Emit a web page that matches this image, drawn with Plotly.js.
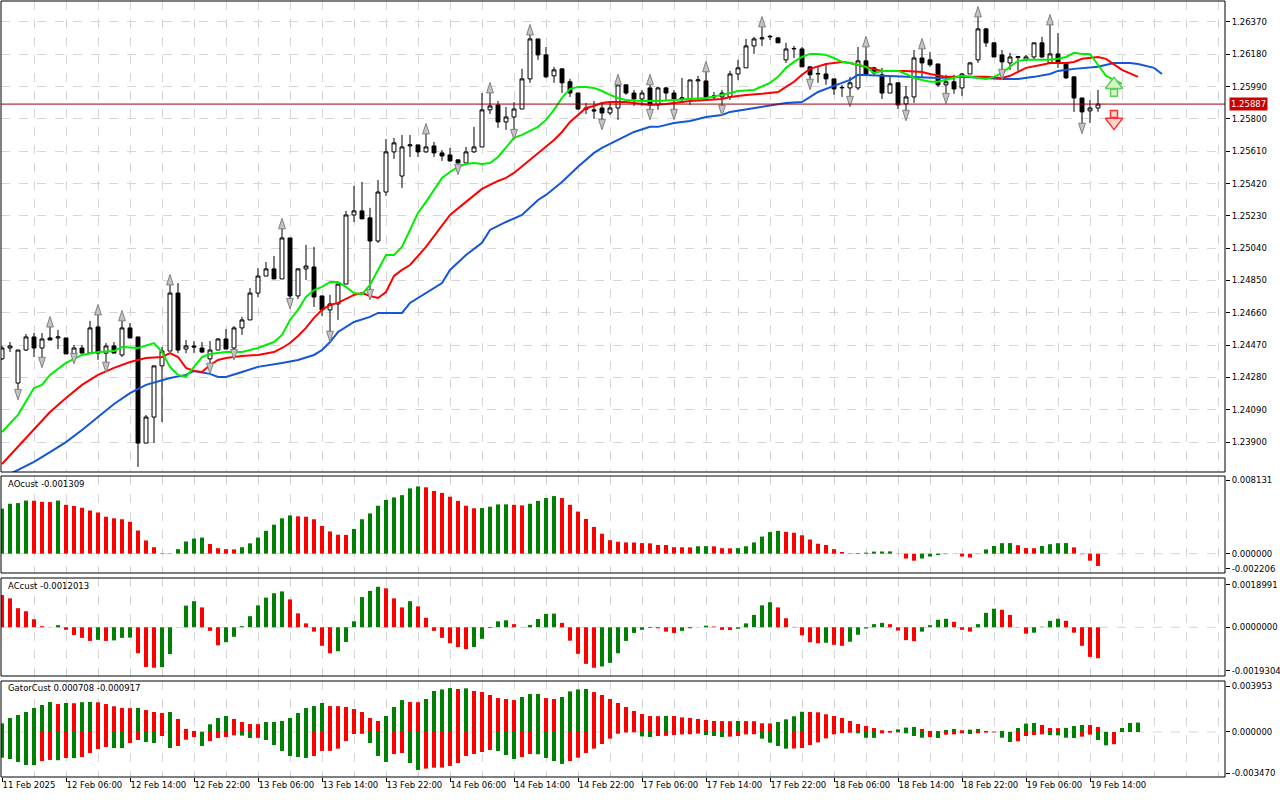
<!DOCTYPE html>
<html><head><meta charset="utf-8">
<script src="https://cdn.plot.ly/plotly-3.0.1.min.js"></script>
<style>html,body{margin:0;padding:0;background:#fff;}#chart{width:1280px;height:800px;}</style>
</head><body><div id="chart"></div>
<script>
// ---- time axis ----
const tickIdx = [0,8,16,24,32,40,48,56,64,72,80,88,96,104,112,120,128,136];
const tickLabels = ['11 Feb 2025','12 Feb 06:00','12 Feb 14:00','12 Feb 22:00','13 Feb 06:00','13 Feb 14:00','13 Feb 22:00','14 Feb 06:00','14 Feb 14:00','14 Feb 22:00','17 Feb 06:00','17 Feb 14:00','17 Feb 22:00','18 Feb 06:00','18 Feb 14:00','18 Feb 22:00','19 Feb 06:00','19 Feb 14:00'];
const priceTicks = [1.23900,1.24090,1.24280,1.24470,1.24660,1.24850,1.25040,1.25230,1.25420,1.25610,1.25800,1.25990,1.26180,1.26370];
const currentPrice = 1.25887;

// ---- candles (H1) ----
const open = [1.24389,1.24453,1.24247,1.24441,1.24518,1.24453,1.24512,1.24512,1.24512,1.24418,
1.24453,1.24423,1.24577,1.24423,1.24465,1.24412,1.24571,1.24518,1.23894,1.24047,
1.24348,1.24435,1.24776,1.24447,1.24465,1.24453,1.24389,1.24441,1.24506,1.24453,
1.24571,1.24618,1.24776,1.24876,1.24918,1.24859,1.25100,1.24759,1.24918,1.24929,
1.24759,1.24677,1.24712,1.24829,1.25235,1.25259,1.25218,1.25082,1.25370,1.25606,
1.25464,1.25641,1.25647,1.25606,1.25641,1.25600,1.25588,1.25559,1.25541,1.25606,
1.25635,1.25853,1.25882,1.25782,1.25811,1.25858,1.26035,1.26270,1.26176,1.26053,
1.26094,1.26018,1.25952,1.25864,1.25853,1.25864,1.25835,1.25864,1.26000,1.25952,
1.25917,1.25982,1.25882,1.25982,1.25952,1.25917,1.25917,1.26023,1.26023,1.25929,
1.25929,1.25929,1.26064,1.26100,1.26229,1.26270,1.26282,1.26276,1.26147,1.26211,
1.26211,1.26106,1.26064,1.26064,1.26035,1.25982,1.25982,1.25982,1.26141,1.26100,
1.26059,1.25952,1.26012,1.25888,1.25929,1.26158,1.26147,1.26123,1.26000,1.26018,
1.25982,1.26064,1.26147,1.26329,1.26247,1.26176,1.26129,1.26160,1.26147,1.26164,
1.26247,1.26129,1.26182,1.26129,1.26047,1.25923,1.25847,1.25864];
const high = [1.24465,1.24488,1.24441,1.24535,1.24541,1.24541,1.24588,1.24559,1.24512,1.24471,
1.24471,1.24612,1.24659,1.24482,1.24488,1.24624,1.24600,1.24518,1.24059,1.24348,
1.24459,1.24835,1.24835,1.24500,1.24494,1.24488,1.24494,1.24512,1.24565,1.24582,
1.24636,1.24806,1.24923,1.24959,1.24994,1.25165,1.25100,1.24923,1.25059,1.25047,
1.24759,1.24765,1.24829,1.25259,1.25406,1.25429,1.25277,1.25441,1.25682,1.25688,
1.25705,1.25705,1.25647,1.25723,1.25665,1.25617,1.25629,1.25559,1.25635,1.25753,
1.25952,1.25964,1.25905,1.25870,1.25899,1.26094,1.26305,1.26270,1.26223,1.26106,
1.26094,1.26035,1.25952,1.25894,1.25905,1.25894,1.25894,1.26012,1.26000,1.25970,
1.25970,1.26012,1.25988,1.25988,1.25970,1.26041,1.26029,1.26053,1.26088,1.25958,
1.25970,1.26082,1.26147,1.26270,1.26282,1.26352,1.26294,1.26282,1.26247,1.26229,
1.26223,1.26106,1.26106,1.26129,1.26035,1.26000,1.26047,1.26223,1.26235,1.26106,
1.26100,1.26053,1.26012,1.25994,1.26205,1.26223,1.26194,1.26123,1.26059,1.26059,
1.26070,1.26135,1.26411,1.26335,1.26247,1.26205,1.26188,1.26170,1.26176,1.26247,
1.26282,1.26364,1.26305,1.26129,1.26047,1.25923,1.25911,1.25970];
const low = [1.24383,1.24429,1.24188,1.24435,1.24400,1.24377,1.24500,1.24447,1.24418,1.24400,
1.24423,1.24423,1.24383,1.24348,1.24423,1.24400,1.24512,1.23754,1.23894,1.23894,
1.24018,1.24435,1.24423,1.24423,1.24423,1.24423,1.24342,1.24441,1.24447,1.24423,
1.24530,1.24618,1.24753,1.24876,1.24859,1.24859,1.24723,1.24741,1.24853,1.24694,
1.24641,1.24530,1.24618,1.24829,1.25194,1.25212,1.24776,1.25071,1.25347,1.25565,
1.25394,1.25576,1.25576,1.25600,1.25576,1.25553,1.25547,1.25512,1.25541,1.25600,
1.25635,1.25829,1.25747,1.25735,1.25717,1.25858,1.26012,1.26147,1.26041,1.26012,
1.25952,1.25929,1.25853,1.25829,1.25800,1.25776,1.25823,1.25794,1.25941,1.25876,
1.25876,1.25835,1.25853,1.25911,1.25835,1.25894,1.25882,1.25911,1.25911,1.25911,
1.25858,1.25911,1.26029,1.26100,1.26182,1.26229,1.26264,1.26247,1.26129,1.26158,
1.26106,1.26012,1.26012,1.26000,1.25941,1.25929,1.25911,1.25970,1.26053,1.26059,
1.25917,1.25952,1.25858,1.25829,1.25894,1.26041,1.26106,1.25988,1.25929,1.25947,
1.25935,1.26064,1.26129,1.26223,1.26164,1.26070,1.26088,1.26082,1.26141,1.26147,
1.26158,1.26129,1.26100,1.26035,1.25841,1.25753,1.25776,1.25841];
const close = [1.24453,1.24465,1.24441,1.24518,1.24453,1.24506,1.24500,1.24518,1.24418,1.24453,
1.24423,1.24571,1.24423,1.24465,1.24423,1.24571,1.24512,1.23894,1.24047,1.24348,
1.24435,1.24776,1.24441,1.24465,1.24459,1.24429,1.24441,1.24506,1.24447,1.24571,
1.24618,1.24776,1.24876,1.24918,1.24859,1.25100,1.24759,1.24918,1.24935,1.24753,
1.24677,1.24712,1.24829,1.25235,1.25259,1.25212,1.25082,1.25370,1.25606,1.25659,
1.25635,1.25647,1.25606,1.25635,1.25600,1.25582,1.25553,1.25541,1.25606,1.25635,
1.25853,1.25876,1.25782,1.25811,1.25858,1.26035,1.26270,1.26176,1.26047,1.26088,
1.26012,1.25952,1.25858,1.25858,1.25847,1.25835,1.25864,1.26000,1.25952,1.25917,
1.25952,1.25882,1.25982,1.25952,1.25917,1.25923,1.26029,1.26029,1.25929,1.25935,
1.25952,1.26064,1.26100,1.26229,1.26270,1.26276,1.26285,1.26247,1.26211,1.26214,
1.26106,1.26059,1.26067,1.26035,1.25976,1.25985,1.26012,1.26141,1.26064,1.26070,
1.25952,1.26006,1.25882,1.25929,1.26158,1.26129,1.26118,1.26000,1.26018,1.25976,
1.26064,1.26129,1.26329,1.26247,1.26164,1.26135,1.26164,1.26166,1.26164,1.26247,
1.26164,1.26182,1.26129,1.26041,1.25923,1.25841,1.25864,1.25887];

// ---- fractals (bar numbers) ----
const fractalUpBars = [6,12,15,21,35,53,61,66,77,81,88,95,108,115,122,131];
const fractalDownBars = [2,5,9,13,17,26,29,36,41,46,57,64,75,81,84,90,101,106,113,118,125,135];

// ---- Alligator (shifted lines) ----
const lipsBars = [0,2,4,5,6,8,10,12,14,15,17,19,20,21,22,23,24,25,26,28,30,32,34,35,36,37,38,39,40,41,42,43,44,45,46,47,48,49,50,51,52,53,54,55,56,57,58,59,60,61,62,63,64,65,66,67,68,69,70,71,72,73,74,75,76,77,78,80,82,84,86,88,90,92,94,96,97,98,99,100,101,102,103,104,105,106,107,108,109,110,111,112,113,114,115,116,117,118,119,120,121,122,123,124,125,126,127,128,129,130,131,132,133,134,135,136,137,138,139,140];
const lipsVal = [1.23959,1.24060,1.24218,1.24236,1.24295,1.24365,1.24412,1.24429,1.24435,1.24459,1.24453,1.24482,1.24429,1.24342,1.24295,1.24283,1.24342,1.24400,1.24418,1.24429,1.24429,1.24453,1.24488,1.24530,1.24618,1.24677,1.24753,1.24794,1.24812,1.24841,1.24841,1.24812,1.24776,1.24770,1.24824,1.24912,1.25000,1.25000,1.25047,1.25147,1.25247,1.25312,1.25382,1.25453,1.25488,1.25518,1.25535,1.25541,1.25535,1.25541,1.25576,1.25629,1.25688,1.25706,1.25729,1.25753,1.25794,1.25853,1.25923,1.25976,1.25988,1.25988,1.25982,1.25964,1.25941,1.25923,1.25911,1.25905,1.25905,1.25911,1.25917,1.25923,1.25941,1.25964,1.25970,1.26012,1.26047,1.26100,1.26135,1.26164,1.26182,1.26182,1.26176,1.26158,1.26135,1.26129,1.26118,1.26106,1.26070,1.26082,1.26082,1.26082,1.26064,1.26041,1.26029,1.26018,1.26018,1.26029,1.26041,1.26053,1.26047,1.26041,1.26035,1.26047,1.26070,1.26106,1.26141,1.26147,1.26147,1.26147,1.26147,1.26153,1.26164,1.26188,1.26182,1.26182,1.26118,1.26053,1.26029,1.26006];
const teethBars = [0,2,4,6,8,10,12,14,16,18,20,21,22,23,24,25,26,27,28,30,32,34,35,36,37,38,39,40,41,42,44,45,46,47,48,49,50,51,53,54,56,58,60,62,63,64,66,67,68,69,70,71,73,74,75,76,78,80,81,83,85,86,88,90,91,93,95,96,97,98,99,100,101,103,105,106,107,108,110,111,113,115,116,118,120,121,123,125,126,127,128,130,131,133,134,135,137,138,139,140,142];
const teethVal = [1.23771,1.23871,1.23971,1.24077,1.24159,1.24236,1.24295,1.24336,1.24371,1.24394,1.24400,1.24423,1.24400,1.24336,1.24318,1.24312,1.24353,1.24383,1.24394,1.24406,1.24412,1.24429,1.24453,1.24482,1.24524,1.24571,1.24630,1.24677,1.24706,1.24718,1.24765,1.24776,1.24759,1.24747,1.24782,1.24877,1.24912,1.24941,1.25047,1.25112,1.25235,1.25312,1.25388,1.25435,1.25453,1.25482,1.25559,1.25600,1.25641,1.25676,1.25723,1.25782,1.25864,1.25876,1.25894,1.25899,1.25899,1.25888,1.25882,1.25888,1.25899,1.25905,1.25911,1.25917,1.25929,1.25941,1.25947,1.25952,1.25958,1.25988,1.26018,1.26059,1.26094,1.26123,1.26135,1.26129,1.26118,1.26106,1.26082,1.26082,1.26082,1.26076,1.26064,1.26047,1.26047,1.26047,1.26047,1.26041,1.26053,1.26076,1.26100,1.26118,1.26129,1.26129,1.26135,1.26153,1.26164,1.26153,1.26118,1.26088,1.26047];
const jawBars = [0,1,4,6,8,10,12,14,16,18,21,23,24,26,27,28,30,32,35,37,39,40,41,42,44,46,47,50,51,53,55,56,58,60,61,63,65,67,68,70,72,74,75,77,79,81,82,84,86,88,90,91,94,96,98,100,101,102,104,106,107,110,112,115,117,120,122,125,127,129,131,132,134,136,137,139,141,142,144,145];
const jawVal = [1.23689,1.23712,1.23783,1.23841,1.23900,1.23971,1.24048,1.24124,1.24188,1.24236,1.24277,1.24295,1.24318,1.24301,1.24283,1.24283,1.24312,1.24342,1.24365,1.24383,1.24412,1.24441,1.24488,1.24547,1.24606,1.24636,1.24659,1.24659,1.24718,1.24776,1.24835,1.24912,1.25000,1.25071,1.25147,1.25194,1.25235,1.25323,1.25353,1.25429,1.25518,1.25600,1.25629,1.25676,1.25723,1.25753,1.25753,1.25776,1.25788,1.25811,1.25823,1.25841,1.25864,1.25876,1.25894,1.25899,1.25929,1.25958,1.25994,1.26029,1.26059,1.26053,1.26047,1.26041,1.26041,1.26047,1.26041,1.26035,1.26035,1.26047,1.26064,1.26082,1.26094,1.26100,1.26106,1.26129,1.26129,1.26123,1.26100,1.26064];

// ---- signal arrows (price at arrow tip) ----
const signalUpBars = [139];
const signalUpTip = [1.26029];
const signalDownBars = [139];
const signalDownTip = [1.25753];

// ---- AO ----
const ao = [0.00480,0.00532,0.00539,0.00566,0.00564,0.00552,0.00550,0.00566,0.00521,0.00508,
0.00490,0.00460,0.00439,0.00394,0.00377,0.00367,0.00340,0.00247,0.00141,0.00069,
0.00005,-0.00003,0.00048,0.00130,0.00161,0.00172,0.00103,0.00058,0.00048,0.00046,
0.00069,0.00110,0.00172,0.00244,0.00309,0.00377,0.00408,0.00398,0.00394,0.00367,
0.00295,0.00237,0.00202,0.00200,0.00264,0.00367,0.00429,0.00511,0.00573,0.00600,
0.00624,0.00696,0.00717,0.00707,0.00669,0.00648,0.00607,0.00563,0.00511,0.00484,
0.00486,0.00501,0.00525,0.00526,0.00521,0.00515,0.00532,0.00563,0.00593,0.00614,
0.00593,0.00521,0.00449,0.00370,0.00285,0.00213,0.00144,0.00127,0.00120,0.00119,
0.00113,0.00110,0.00093,0.00092,0.00069,0.00068,0.00067,0.00079,0.00080,0.00078,
0.00058,0.00057,0.00059,0.00079,0.00120,0.00182,0.00230,0.00244,0.00233,0.00223,
0.00196,0.00151,0.00106,0.00093,0.00048,0.00018,-0.00003,0.00007,0.00011,0.00022,
0.00023,0.00024,-0.00003,-0.00052,-0.00075,-0.00052,-0.00030,-0.00015,-0.00005,0.00002,
-0.00030,-0.00041,-0.00002,0.00045,0.00082,0.00112,0.00113,0.00090,0.00060,0.00058,
0.00082,0.00101,0.00112,0.00113,0.00067,-0.00005,-0.00075,-0.001309];

// ---- AC ----
const ac = [0.00125,0.00112,0.00074,0.00062,0.00031,0.00004,0.00001,0.00008,-0.00010,-0.00030,
-0.00041,-0.00053,-0.00049,-0.00053,-0.00051,-0.00041,-0.00040,-0.00101,-0.00154,-0.00157,
-0.00155,-0.00104,0.00001,0.00084,0.00101,0.00077,-0.00014,-0.00070,-0.00058,-0.00037,
0.00004,0.00043,0.00085,0.00115,0.00132,0.00139,0.00108,0.00054,0.00015,-0.00017,
-0.00072,-0.00101,-0.00093,-0.00057,0.00023,0.00117,0.00141,0.00157,0.00151,0.00112,
0.00077,0.00101,0.00081,0.00037,-0.00014,-0.00041,-0.00062,-0.00077,-0.00085,-0.00077,
-0.00045,-0.00003,0.00023,0.00027,0.00012,0.00001,0.00009,0.00032,0.00052,0.00053,
0.00017,-0.00052,-0.00103,-0.00142,-0.00157,-0.00152,-0.00138,-0.00101,-0.00053,-0.00022,
-0.00010,-0.00003,-0.00004,-0.00017,-0.00022,-0.00014,-0.00004,-0.00001,0.00006,0.00003,
-0.00010,-0.00011,-0.00006,0.00015,0.00048,0.00085,0.00097,0.00077,0.00035,-0.00001,
-0.00031,-0.00058,-0.00062,-0.00060,-0.00068,-0.00072,-0.00056,-0.00029,-0.00005,0.00012,
0.00017,0.00012,-0.00013,-0.00050,-0.00054,-0.00017,0.00008,0.00029,0.00033,0.00021,
-0.00010,-0.00017,0.00012,0.00056,0.00072,0.00068,0.00048,-0.00001,-0.00025,-0.00021,
0.00002,0.00025,0.00033,0.00025,-0.00021,-0.00072,-0.00115,-0.0012013];

// ---- Gator ----
const gatorUp = [0.00065,0.00105,0.00128,0.00150,0.00180,0.00203,0.00225,0.00210,0.00218,0.00216,
0.00224,0.00226,0.00223,0.00210,0.00193,0.00180,0.00179,0.00181,0.00165,0.00150,
0.00143,0.00150,0.00098,0.00023,0.00008,0.00002,0.00058,0.00105,0.00120,0.00098,
0.00075,0.00060,0.00059,0.00075,0.00076,0.00083,0.00105,0.00143,0.00180,0.00195,
0.00218,0.00195,0.00194,0.00188,0.00173,0.00150,0.00105,0.00083,0.00120,0.00188,
0.00240,0.00225,0.00224,0.00248,0.00308,0.00320,0.00330,0.00323,0.00328,0.00308,
0.00300,0.00278,0.00255,0.00248,0.00240,0.00263,0.00285,0.00286,0.00255,0.00248,
0.00263,0.00305,0.00320,0.00323,0.00300,0.00278,0.00248,0.00218,0.00188,0.00158,
0.00135,0.00120,0.00119,0.00121,0.00120,0.00110,0.00105,0.00098,0.00090,0.00083,
0.00082,0.00081,0.00083,0.00082,0.00081,0.00065,0.00064,0.00075,0.00095,0.00118,
0.00152,0.00150,0.00148,0.00133,0.00120,0.00105,0.00083,0.00060,0.00045,0.00030,
0.00013,0.00008,0.00020,0.00033,0.00038,0.00023,0.00008,0.00007,0.00015,0.00023,
0.00013,0.00018,0.00023,0.00008,0.00003,0.00008,0.00001,0.00030,0.00063,0.00068,
0.00053,0.00030,0.00029,0.00031,0.00045,0.00053,0.00052,0.00038,0.00001,0.00000,
0.00030,0.00068,0.000708];
const gatorDown = [-0.00193,-0.00203,-0.00225,-0.00248,-0.00249,-0.00218,-0.00210,-0.00212,-0.00195,-0.00196,
-0.00188,-0.00158,-0.00128,-0.00113,-0.00120,-0.00121,-0.00083,-0.00060,-0.00075,-0.00083,
-0.00030,-0.00120,-0.00105,-0.00058,-0.00038,-0.00105,-0.00068,-0.00045,-0.00038,-0.00025,
-0.00027,-0.00045,-0.00044,-0.00060,-0.00098,-0.00143,-0.00180,-0.00188,-0.00195,-0.00180,
-0.00143,-0.00142,-0.00125,-0.00068,-0.00015,-0.00014,-0.00083,-0.00180,-0.00225,-0.00165,
-0.00158,-0.00233,-0.00285,-0.00275,-0.00268,-0.00267,-0.00255,-0.00233,-0.00180,-0.00165,
-0.00150,-0.00135,-0.00143,-0.00173,-0.00203,-0.00188,-0.00165,-0.00167,-0.00195,-0.00218,
-0.00240,-0.00218,-0.00193,-0.00158,-0.00125,-0.00090,-0.00050,-0.00013,-0.00004,-0.00002,
-0.00033,-0.00038,-0.00030,-0.00029,-0.00023,-0.00018,-0.00017,-0.00012,-0.00023,-0.00030,
-0.00038,-0.00035,-0.00030,-0.00018,-0.00017,-0.00050,-0.00080,-0.00105,-0.00125,-0.00124,
-0.00120,-0.00098,-0.00078,-0.00048,-0.00018,-0.00008,-0.00005,-0.00010,-0.00043,-0.00044,
-0.00010,-0.00005,-0.00003,-0.00010,-0.00030,-0.00043,-0.00038,-0.00045,-0.00020,-0.00018,
-0.00010,-0.00015,-0.00010,-0.00005,-0.00003,-0.00043,-0.00075,-0.00070,-0.00030,-0.00023,
-0.00018,-0.00023,-0.00025,-0.00043,-0.00045,-0.00035,-0.00020,-0.00060,-0.00100,-0.000917];

// ================= drawing =================
const GREEN = '#008000', RED = '#ff0000';
const FONT = 'DejaVu Sans, Verdana, sans-serif';
const bars = n => Array.from({length:n}, (_, i) => i);
function dirColors(vals, firstUp, useAbs) {
  return vals.map((v, i) => {
    if (i === 0) return firstUp ? GREEN : RED;
    const a = useAbs ? Math.abs(v) : v, b = useAbs ? Math.abs(vals[i-1]) : vals[i-1];
    return a > b ? GREEN : RED;
  });
}
// block-arrow glyph offsets (style): head and stem centre relative to the tip
const HEAD_OFF = 0.00028, STEM_OFF = 0.00076;

const traces = [];
traces.push({type:'candlestick', x:bars(open.length), open, high, low, close,
  xaxis:'x', yaxis:'y', whiskerwidth:0,
  increasing:{line:{color:'#000', width:1}, fillcolor:'#ffffff'},
  decreasing:{line:{color:'#000', width:1}, fillcolor:'#000000'},
  hoverinfo:'skip', showlegend:false});
traces.push({type:'scatter', mode:'lines', x:jawBars, y:jawVal, line:{color:'#1455d9', width:2}, xaxis:'x', yaxis:'y', hoverinfo:'skip'});
traces.push({type:'scatter', mode:'lines', x:teethBars, y:teethVal, line:{color:'#ff0000', width:2}, xaxis:'x', yaxis:'y', hoverinfo:'skip'});
traces.push({type:'scatter', mode:'lines', x:lipsBars, y:lipsVal, line:{color:'#00ee00', width:2}, xaxis:'x', yaxis:'y', hoverinfo:'skip'});
traces.push({type:'scatter', mode:'markers', x:fractalUpBars, y:fractalUpBars.map(i => high[i] + 0.0005),
  marker:{symbol:'arrow', angle:0, size:11, color:'#c4c4c4', line:{color:'#808080', width:1}}, xaxis:'x', yaxis:'y', hoverinfo:'skip'});
traces.push({type:'scatter', mode:'markers', x:fractalDownBars, y:fractalDownBars.map(i => low[i] - 0.0004),
  marker:{symbol:'arrow', angle:180, size:11, color:'#c4c4c4', line:{color:'#808080', width:1}}, xaxis:'x', yaxis:'y', hoverinfo:'skip'});
// up signal: stem then head
traces.push({type:'scatter', mode:'markers', x:signalUpBars, y:signalUpTip.map(p => p - STEM_OFF),
  marker:{symbol:'square', size:7, color:'#d6f5c6', line:{color:'#5ccf5c', width:1.5}}, xaxis:'x', yaxis:'y', hoverinfo:'skip', cliponaxis:false});
traces.push({type:'scatter', mode:'markers', x:signalUpBars, y:signalUpTip.map(p => p - HEAD_OFF),
  marker:{symbol:'triangle-up', size:15, color:'#d6f5c6', line:{color:'#5ccf5c', width:1.5}}, xaxis:'x', yaxis:'y', hoverinfo:'skip', cliponaxis:false});
// down signal: stem then head
traces.push({type:'scatter', mode:'markers', x:signalDownBars, y:signalDownTip.map(p => p + STEM_OFF),
  marker:{symbol:'square', size:7, color:'#ffd6cc', line:{color:'#ff3030', width:1.5}}, xaxis:'x', yaxis:'y', hoverinfo:'skip', cliponaxis:false});
traces.push({type:'scatter', mode:'markers', x:signalDownBars, y:signalDownTip.map(p => p + HEAD_OFF),
  marker:{symbol:'triangle-down', size:15, color:'#ffd6cc', line:{color:'#ff3030', width:1.5}}, xaxis:'x', yaxis:'y', hoverinfo:'skip', cliponaxis:false});

traces.push({type:'bar', x:bars(ao.length), y:ao, width:0.5, marker:{color:dirColors(ao, true, false), line:{width:0}}, xaxis:'x', yaxis:'y2', hoverinfo:'skip'});
traces.push({type:'bar', x:bars(ac.length), y:ac, width:0.5, marker:{color:dirColors(ac, false, false), line:{width:0}}, xaxis:'x', yaxis:'y3', hoverinfo:'skip'});
traces.push({type:'bar', x:bars(gatorUp.length), y:gatorUp, width:0.5, marker:{color:dirColors(gatorUp, true, true), line:{width:0}}, xaxis:'x', yaxis:'y4', hoverinfo:'skip'});
traces.push({type:'bar', x:bars(gatorDown.length), y:gatorDown, width:0.5, marker:{color:dirColors(gatorDown, true, true), line:{width:0}}, xaxis:'x', yaxis:'y4', hoverinfo:'skip'});

const GRID = '#d6d6d6';
const dMain = [0.39460, 1], dAO = [0.26478, 0.38946], dAC = [0.13239, 0.25835], dG = [0.00257, 0.12596];
const yCommon = {side:'right', ticks:'outside', ticklen:4, tickcolor:'#000', tickfont:{family:FONT, size:8.5, color:'#000'},
  showline:false, zeroline:false, fixedrange:true, anchor:'x'};

const layout = {
  width:1280, height:800, margin:{l:1, r:55, t:1, b:21},
  paper_bgcolor:'#fff', plot_bgcolor:'#fff', showlegend:false, barmode:'overlay',
  font:{family:FONT, size:8.5, color:'#000'},
  xaxis:{anchor:'y4', domain:[0,1], range:[-0.125, 152.875], rangeslider:{visible:false},
    tickmode:'array', tickvals:tickIdx, ticktext:tickLabels, ticks:'outside', ticklen:4, tickcolor:'#000',
    tickangle:0, automargin:false,
    ticklabelposition:'outside right', tickfont:{family:FONT, size:8.5, color:'#000'},
    showgrid:true, gridcolor:GRID, griddash:'dash', gridwidth:1,
    minor:{tickmode:'linear', tick0:0, dtick:4, showgrid:true, gridcolor:GRID, griddash:'dash', ticks:''},
    showline:false, zeroline:false, fixedrange:true},
  yaxis:Object.assign({}, yCommon, {domain:dMain, range:[1.23724, 1.26493], tickmode:'array', tickvals:priceTicks,
    ticktext:priceTicks.map(v => v.toFixed(5)), showgrid:true, gridcolor:GRID, griddash:'dash'}),
  yaxis2:Object.assign({}, yCommon, {domain:dAO, range:[-0.00206, 0.00828], tickmode:'array',
    tickvals:[0.00785, 0, -0.00163], ticktext:['0.008131','0.000000','-0.002206'], showgrid:false}),
  yaxis3:Object.assign({}, yCommon, {domain:dAC, range:[-0.00189, 0.00191], tickmode:'array',
    tickvals:[0.00164, 0, -0.00169], ticktext:['0.0018991','0.0000000','-0.0019304'], showgrid:false}),
  yaxis4:Object.assign({}, yCommon, {domain:dG, range:[-0.00338, 0.00383], tickmode:'array',
    tickvals:[0.00345, 0, -0.00308], ticktext:['0.003953','0.000000','-0.003470'], showgrid:false}),
  shapes:[
    {type:'line', xref:'paper', x0:0, x1:1, yref:'y2', y0:0, y1:0, line:{color:GRID, width:1, dash:'dash'}, layer:'below'},
    {type:'line', xref:'paper', x0:0, x1:1, yref:'y3', y0:0, y1:0, line:{color:GRID, width:1, dash:'dash'}, layer:'below'},
    {type:'line', xref:'paper', x0:0, x1:1, yref:'y4', y0:0, y1:0, line:{color:GRID, width:1, dash:'dash'}, layer:'below'},
    {type:'line', xref:'paper', x0:0, x1:1, yref:'y', y0:currentPrice, y1:currentPrice, line:{color:'#a00000', width:1}},
    {type:'rect', xref:'paper', yref:'paper', x0:0, x1:1, y0:dMain[0], y1:dMain[1], line:{color:'#000', width:1}},
    {type:'rect', xref:'paper', yref:'paper', x0:0, x1:1, y0:dAO[0], y1:dAO[1], line:{color:'#000', width:1}},
    {type:'rect', xref:'paper', yref:'paper', x0:0, x1:1, y0:dAC[0], y1:dAC[1], line:{color:'#000', width:1}},
    {type:'rect', xref:'paper', yref:'paper', x0:0, x1:1, y0:dG[0], y1:dG[1], line:{color:'#000', width:1}}
  ],
  annotations:[
    {xref:'paper', yref:'y', x:1, y:currentPrice, xanchor:'left', yanchor:'middle', xshift:4, text:currentPrice.toFixed(5),
      showarrow:false, bgcolor:'#c80000', borderpad:1, font:{family:FONT, size:8.5, color:'#fff'}},
    {xref:'paper', yref:'paper', x:0.004, y:0.37918, xanchor:'left', yanchor:'middle', text:'AOcust -0.001309', showarrow:false, font:{family:FONT, size:8.5, color:'#000'}},
    {xref:'paper', yref:'paper', x:0.004, y:0.24807, xanchor:'left', yanchor:'middle', text:'ACcust -0.0012013', showarrow:false, font:{family:FONT, size:8.5, color:'#000'}},
    {xref:'paper', yref:'paper', x:0.004, y:0.11697, xanchor:'left', yanchor:'middle', text:'GatorCust 0.000708 -0.000917', showarrow:false, font:{family:FONT, size:8.5, color:'#000'}}
  ]
};

Plotly.newPlot('chart', traces, layout, {staticPlot:true, displayModeBar:false});
</script></body></html>
